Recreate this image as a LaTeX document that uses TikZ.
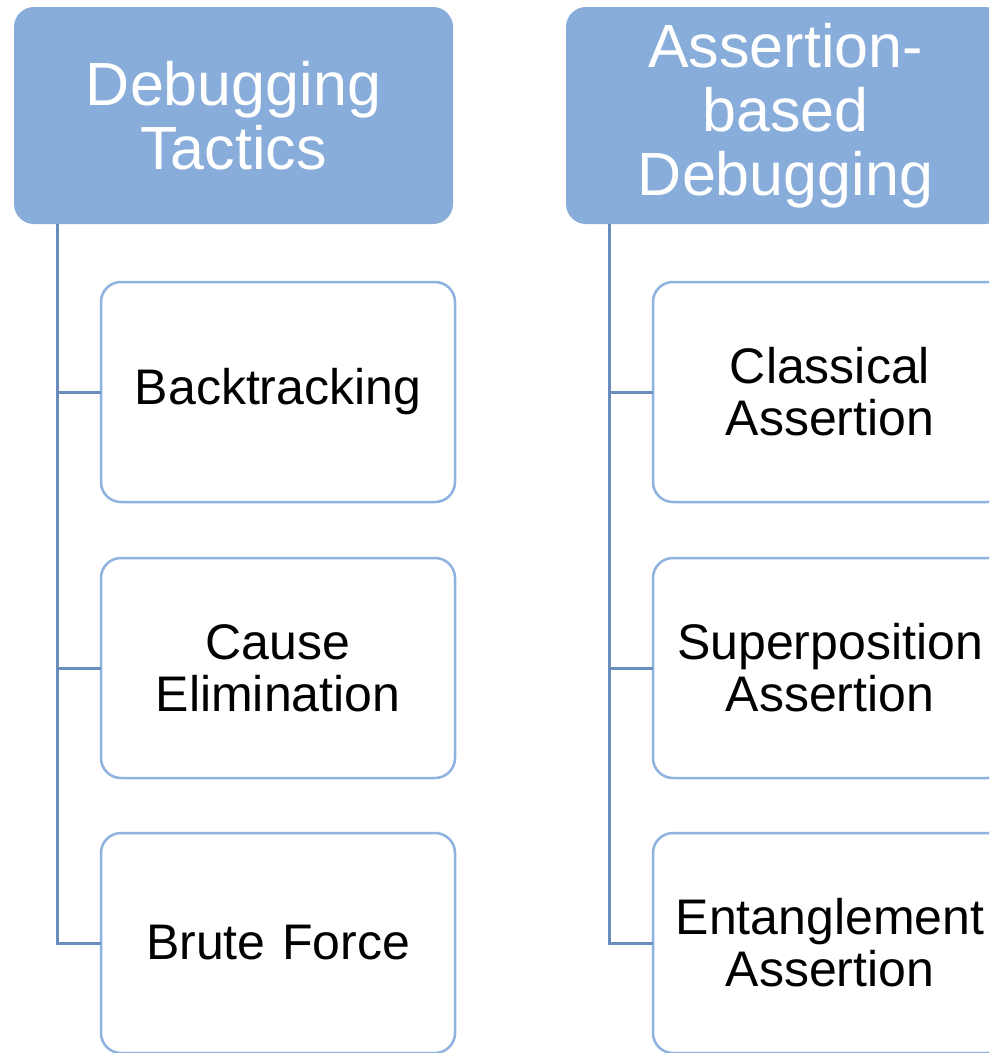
\documentclass[tikz,border=0pt]{standalone}
\usepackage{fontspec}
\setmainfont{Liberation Sans}
\definecolor{headfill}{HTML}{88ADDA}
\definecolor{boxline}{HTML}{8EB3E0}
\definecolor{trunkline}{HTML}{6A8DBE}
\begin{document}
\begin{tikzpicture}[x=1pt,y=-1pt,
  header/.style={rectangle, rounded corners=20pt, fill=headfill, draw=none,
    minimum width=439pt, minimum height=217pt, text width=430pt, align=center,
    text=white, font=\fontsize{61}{64}\selectfont, inner sep=0pt, outer sep=0pt},
  child/.style={rectangle, rounded corners=20pt, fill=white, draw=boxline, line width=2.5pt,
    minimum width=354pt, minimum height=220pt, text width=340pt, align=center,
    font=\fontsize{50}{52}\selectfont, inner sep=0pt, outer sep=0pt},
  link/.style={draw=trunkline, line width=3pt}]
\clip (0,0) rectangle (989,1053);
\fill[white] (0,0) rectangle (989,1053);

% left column
\node[header] (h1) at (233.5,115.5) {Debugging\\Tactics};
\node[child] (a1) at (278,392) {Backtracking};
\node[child] (a2) at (278,668) {Cause\\Elimination};
\node[child] (a3) at (278,943) {Brute Force};
\coordinate (t1) at (57,224);
\draw[link] (t1) |- (a3.west);
\draw[link] (t1 |- a1.west) -- (a1.west);
\draw[link] (t1 |- a2.west) -- (a2.west);

% right column
\node[header] (h2) at (785.5,115.5) {Assertion-\\based\\Debugging};
\node[child] (b1) at (830,392) {Classical\\Assertion};
\node[child] (b2) at (830,668) {Superposition\\Assertion};
\node[child] (b3) at (830,943) {Entanglement\\Assertion};
\coordinate (t2) at (609,224);
\draw[link] (t2) |- (b3.west);
\draw[link] (t2 |- b1.west) -- (b1.west);
\draw[link] (t2 |- b2.west) -- (b2.west);
\end{tikzpicture}
\end{document}
